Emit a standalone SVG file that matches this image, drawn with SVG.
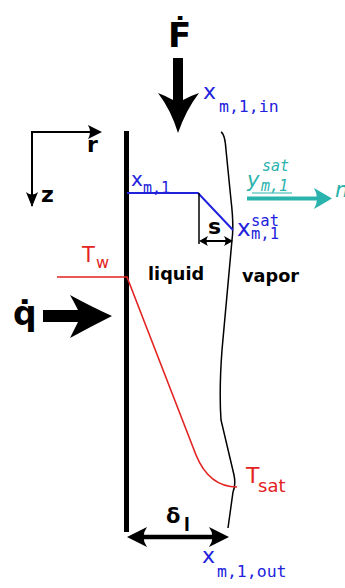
<svg xmlns="http://www.w3.org/2000/svg" width="345" height="588" viewBox="0 0 345 588">
<style>
.blk{fill:#000}
.bold{font-family:"DejaVu Sans",sans-serif;font-weight:bold;fill:#000}
.sans{font-family:"DejaVu Sans",sans-serif}
.mono{font-family:"DejaVu Sans Mono",monospace}
.blue{fill:#2222dd}
.red{fill:#e32222}
.cyan{fill:#2ab3ad}
.ln{fill:none;stroke-linecap:butt;stroke-linejoin:miter}
</style>
<rect width="345" height="588" fill="#fff"/>
<g id="wall"><rect x="124" y="131" width="5" height="401" class="blk"/></g>
<g id="interface"><path class="ln" d="M221,132 Q225,134 226,150 L231,200 Q234,225 232,240 L222,350 Q219,390 221,420 L234,475 Q236,485 233,492 L228,528" stroke="#000" stroke-width="1.5"/></g>
<g id="connectors">
  <path id="F-arrow" class="blk" d="M173,58 H183 V100 Q190,96 199,93 Q186,110 178,133 Q171,110 158,93 Q166,96 173,100 Z"/>
  <path id="q-arrow" class="blk" d="M43,310 H78 Q74,302 70,295 Q92,307 112,316 Q92,326 70,338 Q74,330 78,322 H43 Z"/>
  <g id="axes" stroke="#000" stroke-width="2" fill="none">
    <path d="M32,206 V132 H96"/>
  </g>
  <path class="blk" d="M102,132 L88,125 Q92,132 88,139 Z"/>
  <path class="blk" d="M32,207 L26,192 Q32,197 38,192 Z"/>
  <path id="xm1-line" class="ln" d="M127,193 H198 L233,230" stroke="#2222dd" stroke-width="2"/>
  <path id="s-line" class="ln" d="M199,193 V244" stroke="#000" stroke-width="1.5"/>
  <path d="M202,241 H230" stroke="#000" stroke-width="2" fill="none"/>
  <path class="blk" d="M199,241 L208,236 Q205,241 208,246 Z"/>
  <path class="blk" d="M233,241 L224,236 Q227,241 224,246 Z"/>
  <path id="T-line" class="ln" d="M57,277 H127 L196,455 C203,472 215,487 237,487" stroke="#e32222" stroke-width="1.6"/>
  <path d="M140,537 H216" stroke="#000" stroke-width="4.5" fill="none"/>
  <path class="blk" d="M127,537 L147,527 Q140,537 147,547 Z"/>
  <path class="blk" d="M229,537 L209,527 Q216,537 209,547 Z"/>
  <path d="M247,198.5 H318" stroke="#2ab3ad" stroke-width="4" fill="none"/>
  <path class="cyan" d="M332,198.5 L314,188 Q320,198.5 314,209 Z"/>
  <path d="M252,193 H292" stroke="#2ab3ad" stroke-width="1.2" fill="none"/>
</g>
<g id="labels">
  <text x="168" y="47" class="bold" font-size="34">Ḟ</text>
  <text x="13" y="325" class="bold" font-size="33">q̇</text>
  <text x="87" y="152" class="bold" font-size="22">r</text>
  <text x="41" y="202" class="bold" font-size="22">z</text>
  <text x="208" y="234" class="bold" font-size="22">s</text>
  <text x="148" y="280" class="bold" font-size="17.7">liquid</text>
  <text x="242" y="282" class="bold" font-size="17.7">vapor</text>
  <text x="166" y="523" class="bold" font-size="21">δ<tspan x="184" y="531" font-size="17">l</tspan></text>
  <text x="203" y="99" class="blue sans" font-size="22">x<tspan class="mono" x="219" y="112" font-size="16.5">m,1,in</tspan></text>
  <text x="131" y="186" class="blue sans" font-size="20">x<tspan class="mono" x="143" y="193" font-size="15">m,1</tspan></text>
  <text x="237" y="236" class="blue sans" font-size="23">x<tspan class="mono" x="251" y="226" font-size="15.5">sat</tspan><tspan class="mono" x="251" y="239" font-size="15.5">m,1</tspan></text>
  <text x="202" y="563" class="blue sans" font-size="22">x<tspan class="mono" x="217" y="577" font-size="16.5">m,1,out</tspan></text>
  <text x="247" y="187" class="cyan sans" font-style="italic" font-size="21">y<tspan class="mono" x="262" y="171" font-size="15">sat</tspan><tspan class="mono" x="261" y="191" font-size="15">m,1</tspan></text>
  <text x="335" y="197" class="cyan sans" font-style="italic" font-size="22">ṁ</text>
  <text x="82" y="262" class="red sans" font-size="21">T<tspan x="96" y="268" font-size="16">w</tspan></text>
  <text x="246" y="483" class="red sans" font-size="22">T<tspan x="258" y="492" font-size="18">sat</tspan></text>
</g>
</svg>
